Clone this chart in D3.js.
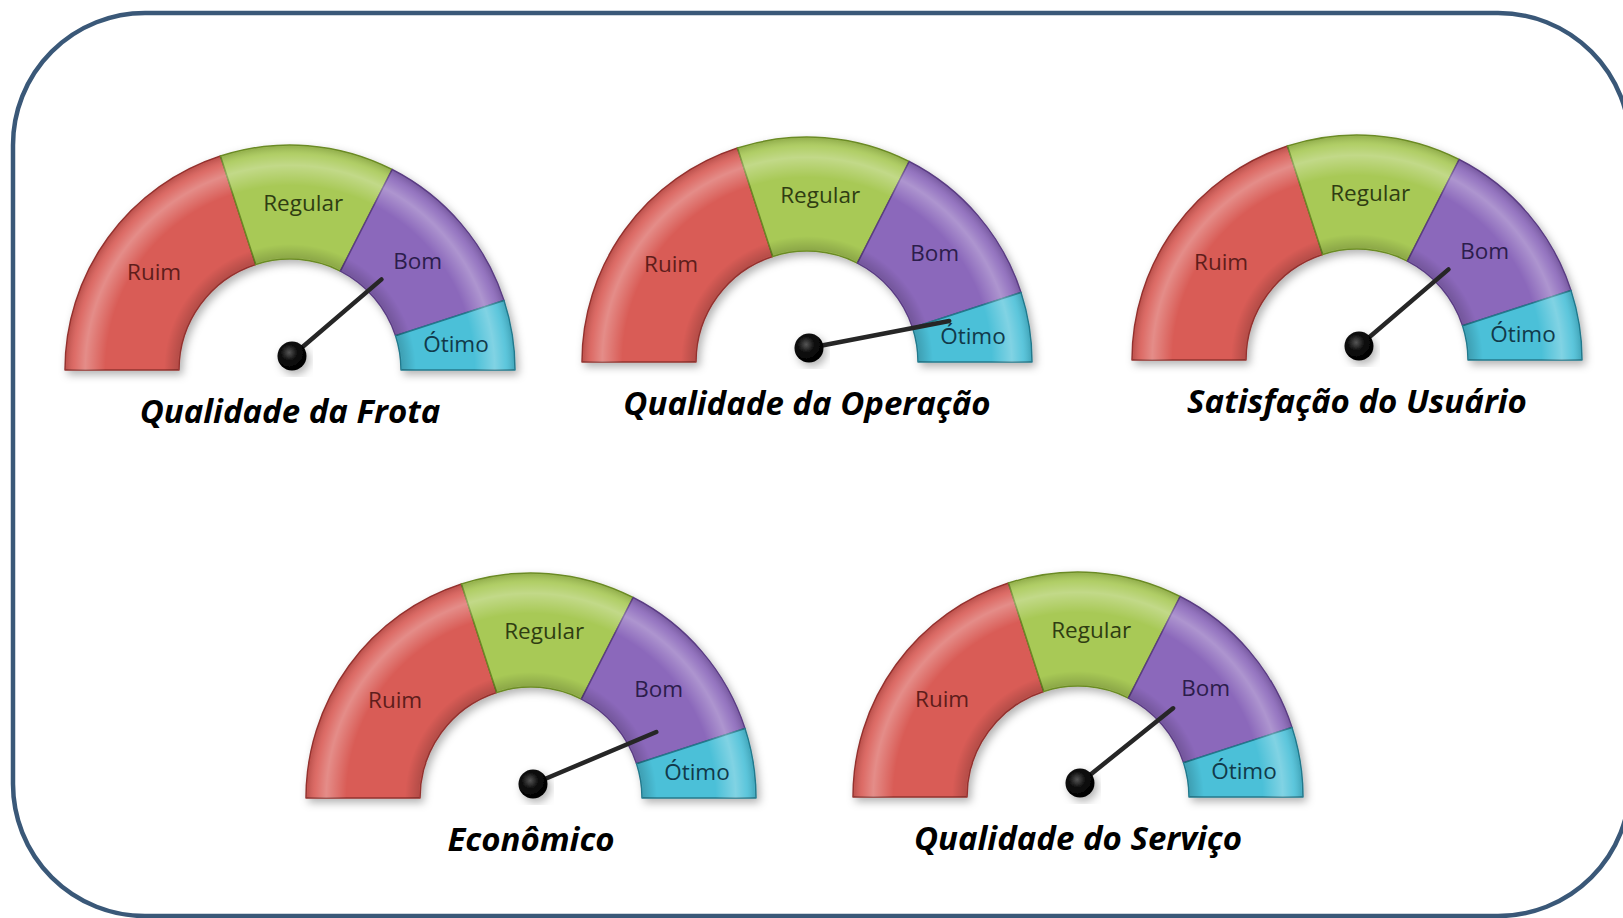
<!DOCTYPE html>
<html>
<head>
<meta charset="utf-8">
<title>Indicadores - velocímetros</title>
<script src="https://d3js.org/d3.v7.min.js"></script>
<style>
  body { margin: 0; background: #fff; }
  text { font-family: "Open Sans", "Noto Sans", sans-serif; }
</style>
</head>
<body>
<script>
const width = 1623, height = 918;

// dados
const gaugeTitles = ["Qualidade da Frota", "Qualidade da Operação", "Satisfação do Usuário", "Econômico", "Qualidade do Serviço"];
const bandNames = ["Ruim", "Regular", "Bom", "Ótimo"];
const bandShares = [40, 25, 25, 10];
const needleValues = [71, 91, 71, 82, 72];

// estilo
const bandFill = ["#d95c57", "#a8c957", "#8b67bb", "#4cc0d8"];
const bandEdge = ["#93322f", "#6b8a25", "#5a3d82", "#23798c"];
const bandText = ["#5e1d1b", "#2f3d12", "#2c1d4c", "#11394a"];

// posição de cada velocímetro (centro da base)
const centers = [[290, 370], [807, 362], [1357, 360], [531, 798], [1078, 797]];
const innerR = 111, outerR = 225;

const svg = d3.select("body").append("svg")
    .attr("width", width)
    .attr("height", height)
    .style("background-color", "#fff");

const defs = svg.append("defs");

const shadow = defs.append("filter").attr("id", "shadow")
    .attr("x", "-20%").attr("y", "-20%").attr("width", "140%").attr("height", "140%");
shadow.append("feDropShadow")
    .attr("dx", 3).attr("dy", 4).attr("stdDeviation", 4)
    .attr("flood-color", "#000").attr("flood-opacity", 0.3);

const hubGrad = defs.append("radialGradient").attr("id", "hub")
    .attr("cx", "40%").attr("cy", "38%").attr("r", "60%");
hubGrad.append("stop").attr("offset", "0%").attr("stop-color", "#555");
hubGrad.append("stop").attr("offset", "45%").attr("stop-color", "#111");
hubGrad.append("stop").attr("offset", "100%").attr("stop-color", "#000");

// brilho radial, centrado na origem local de cada velocímetro
const glossStops = [
    [innerR / outerR, "#000", 0.18],
    [0.56, "#000", 0],
    [0.82, "#fff", 0],
    [0.91, "#fff", 0.3],
    [0.96, "#fff", 0.1],
    [1, "#000", 0.15]
];
const gloss = defs.append("radialGradient")
    .attr("id", "gloss")
    .attr("gradientUnits", "userSpaceOnUse")
    .attr("cx", 0).attr("cy", 0).attr("r", outerR);
gloss.selectAll("stop").data(glossStops).join("stop")
    .attr("offset", d => d[0])
    .attr("stop-color", d => d[1])
    .attr("stop-opacity", d => d[2]);

// moldura
svg.append("rect")
    .attr("x", 13).attr("y", 13)
    .attr("width", 1617).attr("height", 903)
    .attr("rx", 132).attr("ry", 132)
    .attr("fill", "none")
    .attr("stroke", "#3a5878")
    .attr("stroke-width", 4.5);

const pie = d3.pie().sort(null).startAngle(-Math.PI / 2).endAngle(Math.PI / 2);
const arcs = pie(bandShares);
const arc = d3.arc().innerRadius(innerR).outerRadius(outerR);
const glossArc = d3.arc().innerRadius(innerR + 1).outerRadius(outerR - 1);
const angle = d3.scaleLinear()
    .domain([0, d3.sum(bandShares)])
    .range([-Math.PI / 2, Math.PI / 2]);

gaugeTitles.forEach((title, gi) => {
    const [cx, cy] = centers[gi];

    const g = svg.append("g")
        .attr("transform", `translate(${cx},${cy})`);

    const dial = g.append("g").attr("filter", "url(#shadow)");
    dial.selectAll("path.band")
        .data(arcs).join("path")
        .attr("class", "band")
        .attr("d", arc)
        .attr("fill", (d, i) => bandFill[i])
        .attr("stroke", (d, i) => bandEdge[i])
        .attr("stroke-width", 1.5)
        .attr("stroke-linejoin", "round");

    g.selectAll("path.gloss")
        .data(arcs).join("path")
        .attr("class", "gloss")
        .attr("d", glossArc)
        .attr("fill", "url(#gloss)");

    g.selectAll("text.band")
        .data(arcs).join("text")
        .attr("class", "band")
        .attr("transform", d => `translate(${arc.centroid(d)})`)
        .attr("text-anchor", "middle")
        .attr("dominant-baseline", "central")
        .attr("font-size", 22.5)
        .attr("fill", (d, i) => bandText[i])
        .text((d, i) => bandNames[i]);

    // ponteiro
    const hx = 2, hy = -14;
    const a = angle(needleValues[gi]);
    const tip = [hx + 146 * Math.sin(a), hy - 97 * Math.cos(a)];
    g.append("line")
        .attr("x1", hx).attr("y1", hy)
        .attr("x2", tip[0]).attr("y2", tip[1])
        .attr("stroke", "#262626")
        .attr("stroke-width", 4.5)
        .attr("stroke-linecap", "round");
    g.append("circle")
        .attr("cx", hx).attr("cy", hy).attr("r", 14.5)
        .attr("fill", "url(#hub)")
        .attr("filter", "url(#shadow)");

    g.append("text")
        .attr("x", 0).attr("y", 53)
        .attr("text-anchor", "middle")
        .attr("font-size", 33)
        .attr("font-weight", "bold")
        .attr("font-style", "italic")
        .attr("fill", "#000")
        .text(title);
});
</script>
</body>
</html>
